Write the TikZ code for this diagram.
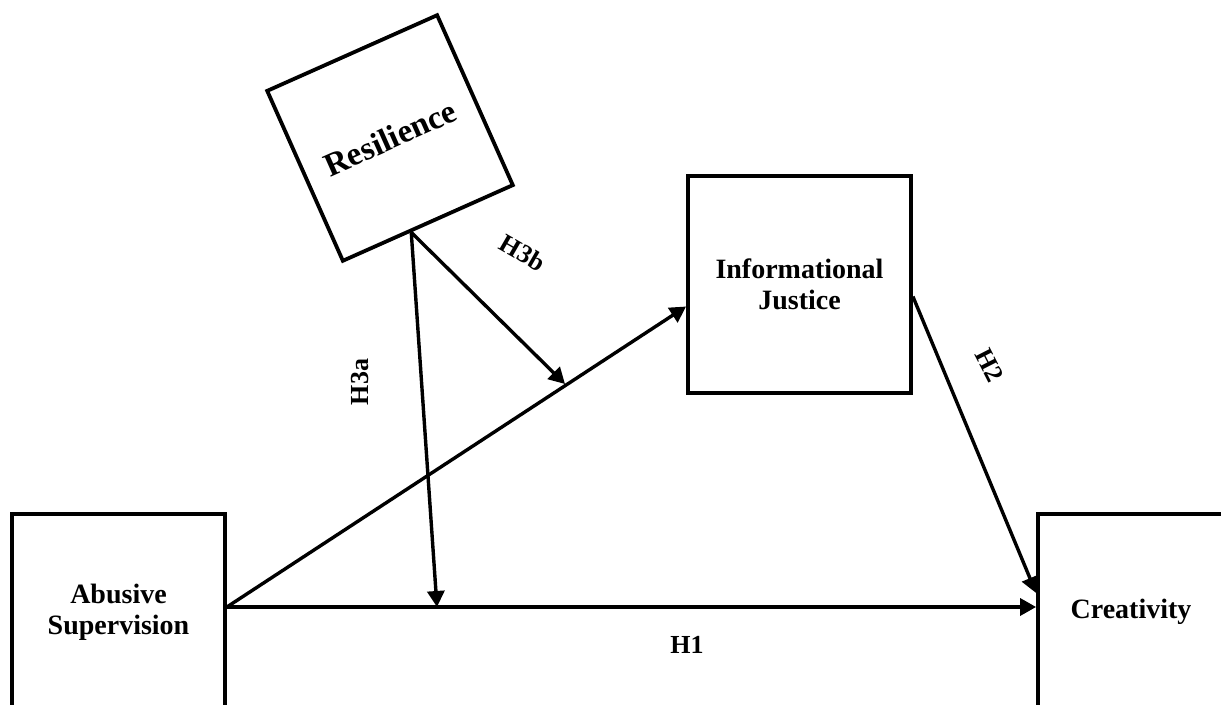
\documentclass[tikz,border=0pt]{standalone}
\usepackage{fontspec}
\setmainfont{Liberation Serif}
\usetikzlibrary{arrows.meta,calc}

\begin{document}
\begin{tikzpicture}[x=0.5pt, y=-0.5pt,
        box/.style={draw, line width=1.9pt, align=center, inner sep=0pt, font=\fontsize{14}{15.5}\selectfont\bfseries},
        path/.style={line width=1.7pt, -{Triangle[length=8pt,width=8.5pt]}},
        hyp/.style={font=\fontsize{13}{15}\selectfont\bfseries}]
        \useasboundingbox (0,0) rectangle (1221,705);
        \node[box, minimum width=106.5pt, minimum height=98pt] (as) at (118.5,612) {Abusive\\Supervision};
        \node[box, minimum width=93pt, minimum height=98pt] (cr) at (1131,612) {Creativity};
        \node[box, minimum width=111.5pt, minimum height=108.5pt] (ij) at (799.5,284.5) {Informational\\Justice};
        \node[box, minimum size=93pt, rotate=24, font=\fontsize{16.5}{18}\selectfont\bfseries] (res) at (390,138) {Resilience};
        \coordinate (rs) at ($(res.south west)!0.4!(res.south east)$);
        \coordinate (m1) at (437,607);
        \coordinate (m2) at (565,384);
        \draw[path] ([yshift=2.5pt]as.east) -- ([yshift=2.5pt]cr.west);
        \draw[path] ([yshift=2.5pt]as.east) -- ([yshift=-11pt]ij.west);
        \draw[path] ([yshift=-6pt]ij.east) -- ([yshift=9.5pt]cr.west);
        \draw[path] (rs) -- (m1);
        \draw[path] (rs) -- (m2);
        \node[hyp] (h1) at (687,645) {H1};
        \node[hyp, rotate=-63] (h2) at (990,365) {H2};
        \node[hyp, rotate=90] (h3a) at (360,382) {H3a};
        \node[hyp, rotate=-30] (h3b) at (523,253) {H3b};
    \end{tikzpicture}
\end{document}
